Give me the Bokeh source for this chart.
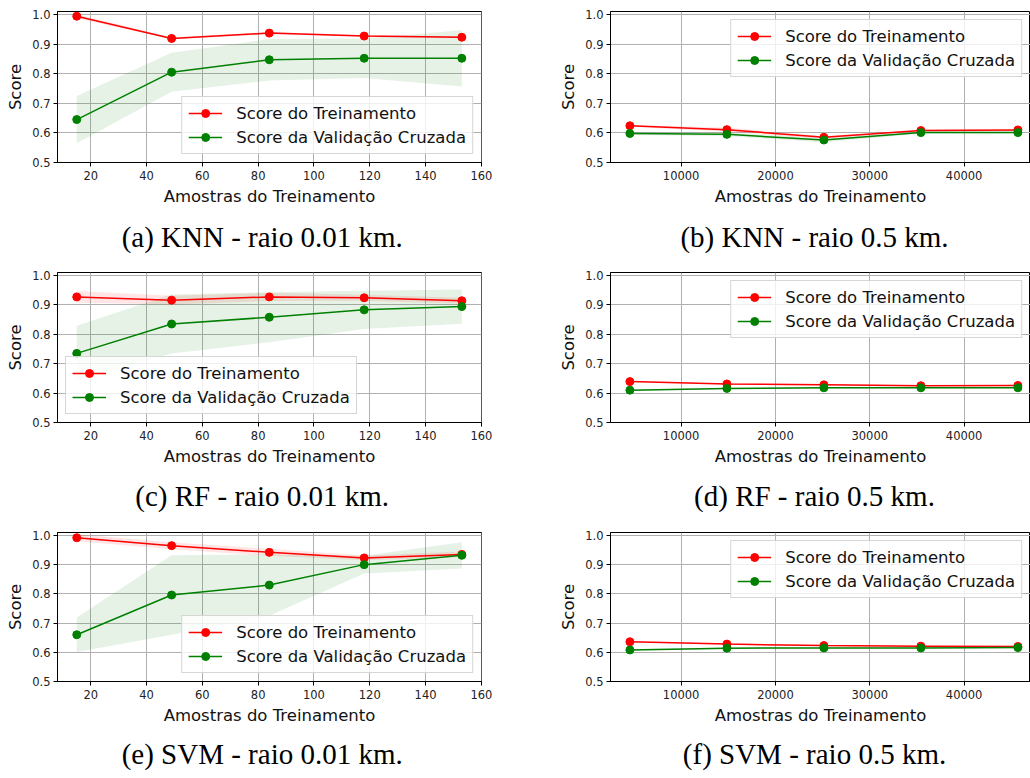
from bokeh.plotting import figure
from bokeh.layouts import row, column
from bokeh.models import (FixedTicker, NumeralTickFormatter, Range1d, Legend,
                          LegendItem, Title)
from bokeh.embed import file_html
from bokeh.resources import INLINE

# ---------------- data ----------------
sizes_small = [15, 49, 84, 118, 153]
sizes_large = [4570, 14852, 25135, 35417, 45700]

knn01_train = [0.994, 0.919, 0.937, 0.927, 0.923]
knn01_train_std = [0.007, 0.003, 0.004, 0.003, 0.003]
knn01_val = [0.645, 0.805, 0.847, 0.852, 0.852]
knn01_val_std = [0.080, 0.066, 0.070, 0.067, 0.095]

knn05_train = [0.624, 0.611, 0.585, 0.608, 0.610]
knn05_train_std = [0.003, 0.007, 0.004, 0.003, 0.003]
knn05_val = [0.598, 0.595, 0.576, 0.601, 0.601]
knn05_val_std = [0.004, 0.006, 0.008, 0.004, 0.004]

rf01_train = [0.927, 0.916, 0.927, 0.924, 0.914]
rf01_train_std = [0.020, 0.015, 0.014, 0.010, 0.010]
rf01_val = [0.735, 0.835, 0.858, 0.883, 0.894]
rf01_val_std = [0.094, 0.100, 0.085, 0.065, 0.058]

rf05_train = [0.639, 0.631, 0.628, 0.625, 0.626]
rf05_train_std = [0.002, 0.002, 0.002, 0.002, 0.002]
rf05_val = [0.610, 0.616, 0.618, 0.618, 0.618]
rf05_val_std = [0.002, 0.002, 0.002, 0.002, 0.002]

svm01_train = [0.992, 0.965, 0.942, 0.923, 0.935]
svm01_train_std = [0.012, 0.012, 0.012, 0.008, 0.010]
svm01_val = [0.660, 0.796, 0.830, 0.900, 0.932]
svm01_val_std = [0.059, 0.136, 0.105, 0.030, 0.045]

svm05_train = [0.636, 0.628, 0.623, 0.621, 0.620]
svm05_train_std = [0.002, 0.002, 0.002, 0.002, 0.002]
svm05_val = [0.608, 0.614, 0.615, 0.615, 0.616]
svm05_val_std = [0.002, 0.002, 0.002, 0.002, 0.002]

captions = ["(a) KNN - raio 0.01 km.", "(b) KNN - raio 0.5 km.",
            "(c) RF - raio 0.01 km.", "(d) RF - raio 0.5 km.",
            "(e) SVM - raio 0.01 km.", "(f) SVM - raio 0.5 km."]
label_train = "Score do Treinamento"
label_val = "Score da Validação Cruzada"
xlabel = "Amostras do Treinamento"
ylabel = "Score"
yticks = [0.5, 0.6, 0.7, 0.8, 0.9, 1.0]
xticks_small = [20, 40, 60, 80, 100, 120, 140, 160]
xticks_large = [10000, 20000, 30000, 40000]

RED = "#ff0000"
GREEN = "#008000"
FONT = "DejaVu Sans"
CAP_SIZE = 29

# Times / Liberation Serif advance widths (per 1000 em) used to centre captions
TIMES_W = {'(': 333, ')': 333, ' ': 250, '-': 333, '.': 250, 'a': 444, 'b': 500,
           'c': 444, 'd': 500, 'e': 444, 'f': 333, 'i': 278, 'k': 500, 'm': 778,
           'o': 500, 'r': 333, 'K': 722, 'N': 722, 'R': 667, 'F': 556, 'S': 556,
           'V': 722, 'M': 889}


def text_width(s, size):
    return sum(TIMES_W.get(ch, 500) for ch in s) * size / 1000.0


def make_plot(x, tr, trs, va, vas, small, caption, legend_loc,
              height, btop, bbottom, cap_standoff):
    if small:
        width, bl, br = 540, 57, 59
        xr = Range1d(8.1, 160.05)
        xt = xticks_small
        cap_center = 204.7
    else:
        width, bl, br = 490, 70, 0
        xr = Range1d(2514, 47038)
        xt = xticks_large
        cap_center = 204.0
    p = figure(width=width, height=height, x_range=xr, y_range=Range1d(0.5, 1.01),
               output_backend="svg", toolbar_location=None,
               min_border_left=bl, min_border_right=br,
               min_border_top=btop, min_border_bottom=bbottom)
    p.background_fill_color = "white"
    p.border_fill_color = "white"
    p.outline_line_color = "#000000"
    p.outline_line_width = 1

    lo_t = [m - s for m, s in zip(tr, trs)]
    hi_t = [m + s for m, s in zip(tr, trs)]
    lo_v = [m - s for m, s in zip(va, vas)]
    hi_v = [m + s for m, s in zip(va, vas)]
    p.varea(x=x, y1=lo_t, y2=hi_t, fill_color=RED, fill_alpha=0.1)
    p.varea(x=x, y1=lo_v, y2=hi_v, fill_color=GREEN, fill_alpha=0.1)
    l1 = p.line(x, tr, line_color=RED, line_width=1.5)
    s1 = p.scatter(x, tr, size=8, fill_color=RED, line_color=RED)
    l2 = p.line(x, va, line_color=GREEN, line_width=1.5)
    s2 = p.scatter(x, va, size=8, fill_color=GREEN, line_color=GREEN)

    for ax in (p.xaxis[0], p.yaxis[0]):
        ax.major_tick_out = 4
        ax.major_tick_in = 0
        ax.minor_tick_out = 0
        ax.minor_tick_in = 0
        ax.major_tick_line_color = "#000000"
        ax.axis_line_color = "#000000"
        ax.major_label_text_font = FONT
        ax.major_label_text_font_size = "11.5px"
        ax.major_label_text_color = "#222222"
        ax.axis_label_text_font = FONT
        ax.axis_label_text_font_size = "16.5px"
        ax.axis_label_text_font_style = "normal"
        ax.axis_label_text_color = "#111111"
    p.xaxis[0].ticker = FixedTicker(ticks=xt)
    p.xaxis[0].formatter = NumeralTickFormatter(format="0")
    p.yaxis[0].ticker = FixedTicker(ticks=yticks)
    p.yaxis[0].formatter = NumeralTickFormatter(format="0.0")
    p.xaxis[0].axis_label = xlabel
    p.yaxis[0].axis_label = ylabel
    p.xaxis[0].major_label_standoff = 4
    p.yaxis[0].major_label_standoff = 3
    p.xaxis[0].axis_label_standoff = 4
    p.yaxis[0].axis_label_standoff = 4

    p.xgrid[0].ticker = FixedTicker(ticks=xt)
    p.ygrid[0].ticker = FixedTicker(ticks=yticks)
    for g in (p.xgrid[0], p.ygrid[0]):
        g.grid_line_color = "#b0b0b0"
        g.grid_line_width = 1

    legend = Legend(items=[LegendItem(label=label_train, renderers=[l1, s1]),
                           LegendItem(label=label_val, renderers=[l2, s2])],
                    location=legend_loc, margin=8, padding=6, spacing=4,
                    glyph_width=34, glyph_height=20, label_height=20,
                    label_standoff=14,
                    label_text_font=FONT, label_text_font_size="16.5px",
                    label_text_color="#111111",
                    background_fill_color="white", background_fill_alpha=0.8,
                    border_line_color="#cccccc", border_line_alpha=0.8)
    p.add_layout(legend)

    off = cap_center - text_width(caption, CAP_SIZE) / 2.0
    p.add_layout(Title(text=caption, align="left", offset=off,
                       standoff=cap_standoff,
                       text_font="Liberation Serif",
                       text_font_size="%dpx" % CAP_SIZE,
                       text_font_style="normal", text_color="#000000"), "below")
    return p


pa = make_plot(sizes_small, knn01_train, knn01_train_std, knn01_val, knn01_val_std,
               True, captions[0], "bottom_right", 262, 11, 96, 20)
pb = make_plot(sizes_large, knn05_train, knn05_train_std, knn05_val, knn05_val_std,
               False, captions[1], "top_right", 262, 11, 96, 20)
pc = make_plot(sizes_small, rf01_train, rf01_train_std, rf01_val, rf01_val_std,
               True, captions[2], "bottom_left", 258, 10, 93, 18)
pd = make_plot(sizes_large, rf05_train, rf05_train_std, rf05_val, rf05_val_std,
               False, captions[3], "top_right", 258, 10, 93, 18)
pe = make_plot(sizes_small, svm01_train, svm01_train_std, svm01_val, svm01_val_std,
               True, captions[4], "bottom_right", 258, 12, 91, 17)
pf = make_plot(sizes_large, svm05_train, svm05_train_std, svm05_val, svm05_val_std,
               False, captions[5], "top_right", 258, 12, 91, 17)

layout = column(row(pa, pb), row(pc, pd), row(pe, pf))
open("out.html", "w").write(file_html(layout, INLINE))
